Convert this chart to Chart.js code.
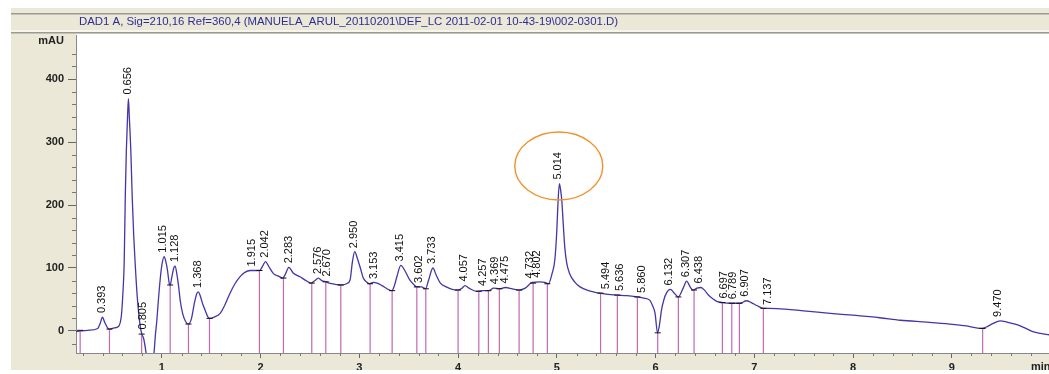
<!DOCTYPE html>
<html>
<head>
<meta charset="utf-8">
<script src="https://cdn.jsdelivr.net/npm/chart.js@4/dist/chart.umd.min.js"></script>
<style>
html,body{margin:0;padding:0;background:#fff;}
canvas{display:block;}
</style>
</head>
<body>
<canvas id="chrom" width="1049" height="374"></canvas>
<script>

// retention time (min) and signal (mAU)
const times = [
0.13,0.25,0.35,0.375,0.398,0.42,0.45,0.469,0.52,0.56,0.59,0.605,0.618,0.630,0.640,0.652,0.661,0.670,0.685,0.70,0.715,0.729,0.75,0.78,0.797,0.815,0.84,0.86,0.88,0.90,0.92,0.935,0.949,0.965,0.982,1.0,1.023,1.04,1.056,1.075,1.084,1.10,1.12,1.134,1.15,1.17,1.185,1.21,1.24,1.269,1.30,1.33,1.355,1.37,1.39,1.415,1.438,1.46,1.482,1.53,1.59,1.64,1.69,1.74,1.79,1.84,1.894,1.95,1.99,2.02,2.05,2.08,2.13,2.18,2.225,2.25,2.286,2.33,2.40,2.46,2.51,2.55,2.585,2.62,2.66,2.72,2.81,2.87,2.906,2.93,2.953,2.98,3.01,3.04,3.07,3.10,3.14,3.18,3.23,3.28,3.33,3.355,3.38,3.42,3.46,3.51,3.55,3.58,3.63,3.67,3.70,3.745,3.78,3.82,3.88,3.94,4.0,4.04,4.07,4.11,4.19,4.26,4.31,4.36,4.42,4.48,4.55,4.62,4.68,4.75,4.83,4.88,4.915,4.95,4.98,5.0,5.01,5.026,5.04,5.05,5.065,5.08,5.10,5.13,5.18,5.235,5.32,5.40,5.44,5.52,5.61,5.71,5.81,5.88,5.94,5.97,5.995,6.02,6.04,6.06,6.085,6.11,6.15,6.19,6.23,6.28,6.315,6.35,6.38,6.42,6.46,6.50,6.535,6.58,6.62,6.68,6.77,6.86,6.92,6.97,7.03,7.09,7.15,7.26,7.50,7.77,8.0,8.27,8.48,8.75,8.98,9.15,9.30,9.36,9.42,9.49,9.56,9.66,9.75,9.82,9.90,9.985
];
const signal = [
-1,1,4,12,22,14,5,3,5,7,25,60,108,220,287,340,369,340,287,210,150,108,55,8,-5,-12,-35,-60,-70,-50,-35,-5,17,50,81,105,118,110,97,75,73,85,100,103,92,70,49,28,15,11,20,45,60,62,55,42,33,24,20,22,28,42,60,75,86,93,96,96,96,103,110,103,91,87,84,90,101,92,86,80,76,80,84,80,78,75,73,75,81,110,126,115,100,84,78,75,77,76,72,67,64,72,86,104,96,81,74,70,70,67,80,100,88,76,70,66,65,68,72,68,63,64,64,68,67,69,67,65,68,77,78,77,75,90,113,160,197,234,222,208,170,134,108,91,78,70,64,61,60,58,57,56,54,52,49,40,28,-3,10,33,50,60,66,60,54,68,79,70,65,68,69,64,57,51,47,45,44,44,48,45,40,36,36,35,32,28,25,21,17,14,11,8,4,7,12,16,14,10,4,-1,-4,-6
];

// integration drop lines: time and height of the curve where they start
const dropTimes = [0.172,0.469,0.795,1.084,1.269,1.482,1.988,2.231,2.518,2.660,2.812,3.109,3.332,3.582,3.673,4.0,4.21,4.307,4.418,4.618,4.76,4.904,5.443,5.613,5.816,6.022,6.231,6.39,6.677,6.772,6.849,7.092,9.313];
const dropHeights = [1,3,-5,73,11,20,96,84,76,78,73,75,64,70,67,65,63,64,67,65,76,75,60,57,54,-3,54,65,45,44,44,36,4];

// peak labels and the height they sit on
const peakLabels = ['0.393','0.656','0.805','1.015','1.128','1.368','1.915','2.042','2.283','2.576','2.670','2.950','3.153','3.415','3.602','3.733','4.057','4.257','4.369','4.475','4.732','4.802','5.014','5.494','5.636','5.860','6.132','6.307','6.438','6.697','6.789','6.907','7.137','9.470'];
const labelHeights = [22,369,-4,118,103,62,96,110,101,84,80,125,76,104,70,100,72,65,68,69,77,78,234,60,57,54,66,79,69,45,44,48,35,16];

const xTicks = [1,2,3,4,5,6,7,8,9];
const yTicks = [0,100,200,300,400,460];

const highlight = {x:5.02, y:262};
const titleText = 'DAD1 A, Sig=210,16 Ref=360,4 (MANUELA_ARUL_20110201\\DEF_LC 2011-02-01 10-43-19\\002-0301.D)';

const traceData = times.map((t,i)=>({x:t,y:signal[i]}));
const dropData = [];
dropTimes.forEach((t,i)=>{
  dropData.push({x:t,y:-35},{x:t,y:dropHeights[i]},{x:t,y:null});
});

const beige = '#ebe8d8';

const frame = {
  id:'frame',
  beforeDraw(chart){
    const c = chart.ctx, a = chart.chartArea;
    c.save();
    c.fillStyle = '#fff';
    c.fillRect(0,0,chart.width,chart.height);
    c.fillStyle = beige;
    c.fillRect(11,8,chart.width-11,26);
    c.fillRect(11,34,a.left-11,336);
    c.fillRect(11,a.bottom,chart.width-11,370-a.bottom);
    c.fillStyle = '#fff';
    c.fillRect(a.left,a.top,a.right-a.left,a.bottom-a.top);
    c.fillStyle = '#9a9a94';
    c.fillRect(11,13,chart.width-11,1.5);
    c.fillRect(11,32,chart.width-11,1.5);
    c.fillStyle = '#f6f5ee';
    c.fillRect(11,30,chart.width-11,2);
    c.fillStyle = '#2d2d96';
    c.font = '11.4px "Liberation Sans", Arial, sans-serif';
    c.textBaseline = 'middle';
    c.fillText(titleText,79,22);
    c.restore();
  },
  afterDraw(chart){
    const c = chart.ctx, a = chart.chartArea;
    const xs = chart.scales.x, ys = chart.scales.y;
    c.save();
    c.strokeStyle = '#777';
    c.lineWidth = 1;
    c.beginPath();
    for(let v=-20; v<=440; v+=20){
      if(v%100===0) continue;
      const y = Math.round(ys.getPixelForValue(v))+0.5;
      c.moveTo(a.left-4,y); c.lineTo(a.left,y);
    }
    for(let k=1; k<50; k++){
      if(k%5===0) continue;
      const x = Math.round(xs.getPixelForValue(k/5))+0.5;
      c.moveTo(x,a.bottom); c.lineTo(x,a.bottom+3);
    }
    c.stroke();
    c.fillStyle = '#222';
    c.font = 'bold 11px "Liberation Sans", Arial, sans-serif';
    c.textBaseline = 'middle';
    c.fillText('min',1031,367);
    c.restore();
  }
};

const peakText = {
  id:'peakText',
  afterDatasetsDraw(chart){
    const c = chart.ctx;
    const xs = chart.scales.x, ys = chart.scales.y;
    c.save();
    c.fillStyle = '#111';
    c.font = '11px "Liberation Sans", Arial, sans-serif';
    c.textAlign = 'left';
    c.textBaseline = 'middle';
    peakLabels.forEach((lab,i)=>{
      const x = xs.getPixelForValue(parseFloat(lab));
      const y = ys.getPixelForValue(labelHeights[i]) - 4;
      c.save();
      c.translate(x,y);
      c.rotate(-Math.PI/2);
      c.fillText(lab,0,0);
      c.restore();
    });
    const cx = xs.getPixelForValue(highlight.x), cy = ys.getPixelForValue(highlight.y);
    c.strokeStyle = '#f0922b';
    c.lineWidth = 1.4;
    c.beginPath();
    c.ellipse(cx,cy,44,34,0,0,Math.PI*2);
    c.stroke();
    c.restore();
  }
};

const tickFont = {family:'"Liberation Sans", Arial, sans-serif', size:11, weight:'bold'};

new Chart(document.getElementById('chrom'),{
  type:'line',
  data:{
    datasets:[
      {
        label:'drops',
        data:dropData,
        borderColor:'#c06ab4',
        borderWidth:1.2,
        tension:0,
        spanGaps:false,
        pointRadius:ctx=>ctx.dataIndex%3===1?3:0,
        pointStyle:'line',
        pointBorderColor:'#111',
        pointBorderWidth:1
      },
      {
        label:'DAD1 A',
        data:traceData,
        borderColor:'#4336a8',
        borderWidth:1.3,
        pointRadius:0,
        cubicInterpolationMode:'monotone'
      }
    ]
  },
  options:{
    responsive:false,
    animation:false,
    devicePixelRatio:1,
    layout:{padding:{left:11,top:35,right:0,bottom:4}},
    plugins:{legend:{display:false},tooltip:{enabled:false}},
    scales:{
      x:{
        type:'linear',
        min:0.13,
        max:9.985,
        afterBuildTicks:s=>{s.ticks = xTicks.map(v=>({value:v}));},
        afterFit:s=>{s.height = 17;},
        ticks:{font:tickFont,color:'#222',padding:3,maxRotation:0,autoSkip:false},
        grid:{drawOnChartArea:false,tickLength:5,tickColor:'#666'},
        border:{color:'#888'}
      },
      y:{
        min:-35,
        max:470,
        afterBuildTicks:s=>{s.ticks = yTicks.map(v=>({value:v}));},
        afterFit:s=>{s.width = 65;},
        ticks:{font:tickFont,color:'#222',padding:4,callback:v=>v===460?'mAU':v},
        grid:{drawOnChartArea:false,tickLength:8,tickColor:ctx=>ctx.tick&&ctx.tick.value===460?'rgba(0,0,0,0)':'#666'},
        border:{color:'#888'}
      }
    }
  },
  plugins:[frame,peakText]
});

</script>
</body>
</html>
